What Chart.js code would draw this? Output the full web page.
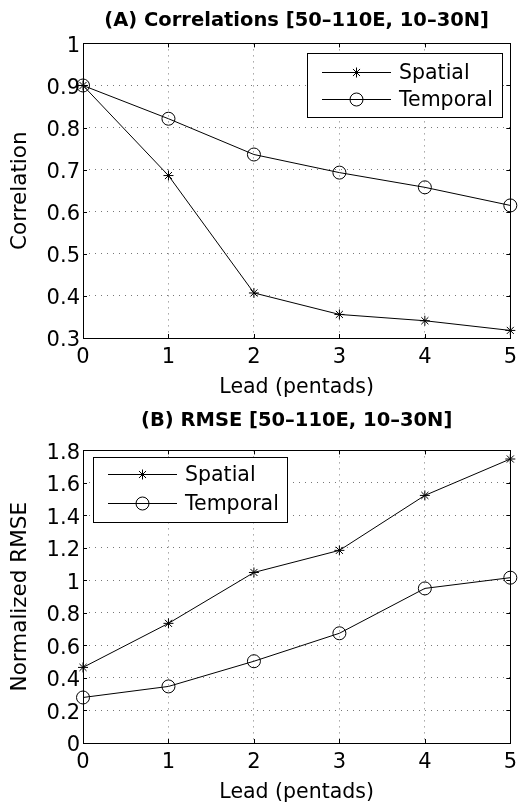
<!DOCTYPE html>
<html>
<head>
<meta charset="utf-8">
<title>Correlations and RMSE by lead</title>
<script src="https://cdn.jsdelivr.net/npm/chart.js@4.4.1/dist/chart.umd.min.js"></script>
<style>
  html, body { margin: 0; padding: 0; background: #fff; }
  canvas { display: block; }
</style>
</head>
<body>
<canvas id="corrChart" width="524" height="400"></canvas>
<canvas id="rmseChart" width="524" height="405"></canvas>
<script>
// Lead (pentads)
const leads = ['0', '1', '2', '3', '4', '5'];

// (A) Correlations
const corrSpatial = [0.9, 0.686, 0.407, 0.356, 0.341, 0.318];
const corrTemporal = [0.9, 0.821, 0.736, 0.693, 0.658, 0.615];
const corrTicks = [0.3, 0.4, 0.5, 0.6, 0.7, 0.8, 0.9, 1];

// (B) Normalized RMSE
const rmseSpatial = [0.465, 0.736, 1.049, 1.185, 1.523, 1.747];
const rmseTemporal = [0.28, 0.348, 0.503, 0.675, 0.951, 1.017];
const rmseTicks = [0, 0.2, 0.4, 0.6, 0.8, 1, 1.2, 1.4, 1.6, 1.8];

const FONT = 'DejaVu Sans';

function drawMarker(ctx, style, x, y, r) {
    ctx.beginPath();
    if (style === 'circle') {
        ctx.arc(x, y, r, 0, Math.PI * 2);
    } else {
        const d = r * Math.SQRT1_2;
        ctx.moveTo(x - r, y); ctx.lineTo(x + r, y);
        ctx.moveTo(x, y - r); ctx.lineTo(x, y + r);
        ctx.moveTo(x - d, y - d); ctx.lineTo(x + d, y + d);
        ctx.moveTo(x - d, y + d); ctx.lineTo(x + d, y - d);
    }
    ctx.stroke();
}

// box round the axes, with small inward ticks on every side
const axesBox = {
    id: 'axesBox',
    afterDatasetsDraw(chart) {
        const { ctx, chartArea: a, scales } = chart;
        const t = 4;
        ctx.save();
        ctx.strokeStyle = '#000';
        ctx.lineWidth = 1;
        ctx.beginPath();
        scales.x.ticks.forEach((tk, i) => {
            const px = Math.round(scales.x.getPixelForTick(i)) + 0.5;
            ctx.moveTo(px, a.bottom); ctx.lineTo(px, a.bottom - t);
            ctx.moveTo(px, a.top); ctx.lineTo(px, a.top + t);
        });
        scales.y.ticks.forEach(tk => {
            const py = Math.round(scales.y.getPixelForValue(tk.value)) + 0.5;
            ctx.moveTo(a.left, py); ctx.lineTo(a.left + t, py);
            ctx.moveTo(a.right, py); ctx.lineTo(a.right - t, py);
        });
        ctx.stroke();
        ctx.strokeRect(Math.round(a.left) + 0.5, Math.round(a.top) + 0.5,
            Math.round(a.right - a.left), Math.round(a.bottom - a.top));
        ctx.restore();
    }
};

// boxed legend inside the axes
const legendBox = {
    id: 'legendBox',
    afterDraw(chart, args, o) {
        const { ctx, chartArea: a } = chart;
        const x = Math.round(o.corner === 'ne' ? a.right - o.dx - o.w : a.left + o.dx);
        const y = Math.round(a.top + o.dy);
        ctx.save();
        ctx.fillStyle = '#fff';
        ctx.fillRect(x, y, o.w, o.h);
        ctx.strokeStyle = '#000';
        ctx.lineWidth = 1;
        ctx.strokeRect(x + 0.5, y + 0.5, o.w, o.h);
        ctx.font = '20.5px "' + FONT + '"';
        ctx.textBaseline = 'middle';
        ctx.fillStyle = '#000';
        chart.data.datasets.forEach((ds, i) => {
            const ry = y + o.rows[i] + 0.5;
            ctx.beginPath();
            ctx.moveTo(x + 15, ry); ctx.lineTo(x + 84, ry);
            ctx.stroke();
            drawMarker(ctx, ds.pointStyle, x + 49.5, ry, ds.pointRadius);
            ctx.fillText(ds.label, x + 92, ry + 1);
        });
        ctx.restore();
    }
};

function series(label, data, style) {
    return {
        label: label,
        data: data,
        borderColor: '#000',
        borderWidth: 1,
        backgroundColor: 'rgba(0,0,0,0)',
        pointStyle: style,
        pointRadius: style === 'circle' ? 6.5 : 5,
        pointBorderWidth: 1,
        pointBorderColor: '#000',
        pointBackgroundColor: 'rgba(0,0,0,0)',
        tension: 0,
        clip: false
    };
}

function yScale(title, ticks) {
    return {
        type: 'linear',
        min: ticks[0],
        max: ticks[ticks.length - 1],
        afterBuildTicks: s => { s.ticks = ticks.map(v => ({ value: v })); },
        afterFit: s => { s.width = 83; },
        grid: { color: '#777', drawTicks: false },
        border: { display: false, dash: [1, 5] },
        ticks: {
            color: '#000',
            font: { family: FONT, size: 21 },
            padding: 3,
            labelOffset: 3,
            callback: v => String(+v.toFixed(2))
        },
        title: {
            display: true, text: title, color: '#000',
            font: { family: FONT, size: 21.5 },
            padding: { top: 8, bottom: 0 }
        }
    };
}

function xScale() {
    return {
        type: 'category',
        offset: false,
        afterFit: s => { s.height = 62; },
        grid: { color: '#777', drawTicks: false },
        border: { display: false, dash: [1, 5] },
        ticks: {
            color: '#000',
            font: { family: FONT, size: 21 },
            padding: 7,
            maxRotation: 0,
            autoSkip: false
        },
        title: {
            display: true, text: 'Lead (pentads)', color: '#000',
            font: { family: FONT, size: 20.5 },
            padding: { top: 0, bottom: 0 }
        }
    };
}

function makeChart(id, title, titlePad, spatial, temporal, yTitle, yTicks, legendOpts) {
    return new Chart(document.getElementById(id), {
        type: 'line',
        data: {
            labels: leads,
            datasets: [
                series('Spatial', spatial, 'star'),
                series('Temporal', temporal, 'circle')
            ]
        },
        options: {
            responsive: false,
            animation: false,
            devicePixelRatio: 1,
            layout: { padding: { left: 0, right: 9, top: 0, bottom: 0 } },
            plugins: {
                legend: { display: false },
                tooltip: { enabled: false },
                title: {
                    display: true,
                    text: title,
                    color: '#000',
                    fullSize: false,
                    font: { family: FONT, size: 19.5, weight: 'bold' },
                    padding: titlePad
                },
                legendBox: legendOpts
            },
            scales: {
                x: xScale(),
                y: yScale(yTitle, yTicks)
            }
        },
        plugins: [axesBox, legendBox]
    });
}

makeChart('corrChart', '(A) Correlations [50\u2013110E, 10\u201330N]', { top: 9, bottom: 11 },
    corrSpatial, corrTemporal, 'Correlation', corrTicks,
    { corner: 'ne', dx: 8, dy: 10, w: 195, h: 64, rows: [19, 46] });

makeChart('rmseChart', '(B) RMSE [50\u2013110E, 10\u201330N]', { top: 9, bottom: 18 },
    rmseSpatial, rmseTemporal, 'Normalized RMSE', rmseTicks,
    { corner: 'nw', dx: 10, dy: 7, w: 194, h: 65, rows: [17, 46] });
</script>
</body>
</html>
